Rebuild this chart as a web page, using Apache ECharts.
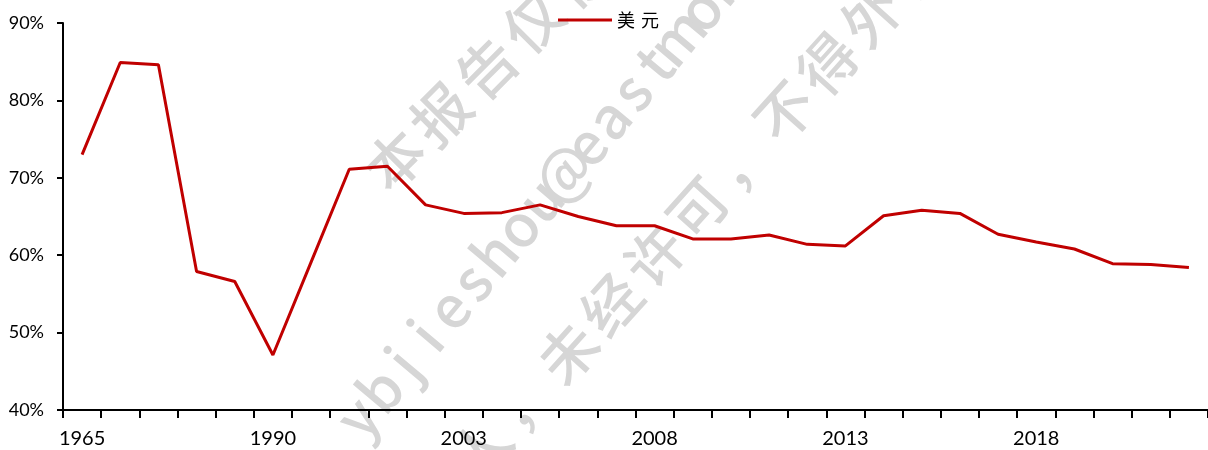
<!DOCTYPE html>
<html>
<head>
<meta charset="utf-8">
<title>美元</title>
<script src="https://cdn.jsdelivr.net/npm/echarts@6/dist/echarts.min.js"></script>
<style>
  html, body { margin: 0; padding: 0; background: #fff; overflow: hidden; }
  #chart { width: 1208px; height: 450px; }
</style>
</head>
<body>
<div id="chart"></div>
<script>
// Years on the category axis (five-year steps to 1995, then annual)
const years = ['1965', '1970', '1975', '1980', '1985', '1990', '1995', '2000', '2001', '2002',
               '2003', '2004', '2005', '2006', '2007', '2008', '2009', '2010', '2011', '2012',
               '2013', '2014', '2015', '2016', '2017', '2018', '2019', '2020', '2021', '2022'];

// Share of the US dollar, percent
const usdShare = [73.0, 84.9, 84.6, 57.9, 56.6, 47.1, 59.1, 71.1, 71.5, 66.5,
                  65.4, 65.5, 66.5, 65.0, 63.8, 63.8, 62.1, 62.1, 62.6, 61.4,
                  61.2, 65.1, 65.8, 65.4, 62.7, 61.7, 60.8, 58.9, 58.8, 58.4];

const seriesName = '美元';

// Y axis range and step (percent)
const yMin = 40, yMax = 90, yStep = 10;

// Watermark lines
const markLines = [
  '本报告仅供',
  'ybjieshou@eastmoney.com',
  '个人，未经许可，不得外传'
];

// Lay a string out one glyph at a time along a slanted baseline
function slantedText(text, cx, cy, angleDeg, advance, fontSize) {
  const a = angleDeg * Math.PI / 180;
  const dx = Math.cos(a) * advance, dy = -Math.sin(a) * advance;
  return Array.from(text).map((ch, i) => ({
    type: 'text',
    x: cx + dx * i,
    y: cy + dy * i,
    rotation: a,
    silent: true,
    z: 0,
    style: {
      text: ch,
      fill: '#d6d6d6',
      font: '500 ' + fontSize + 'px "Noto Sans CJK SC", "Noto Sans", sans-serif',
      textAlign: 'center',
      textVerticalAlign: 'middle',
      align: 'center',
      verticalAlign: 'middle'
    }
  }));
}

const watermark = [].concat(
  slantedText(markLines[0], 395, 160, 45, 65, 58),
  slantedText(markLines[1], 357, 417, 50, 35.5, 58),
  slantedText(markLines[2], 437.6, 497.1, 48, 64.8, 58)
);

// Legend label: each glyph as its own rich run so the two characters sit apart
function spacedLabel(name) {
  return Array.from(name).map((c, i) => '{' + (i === 0 ? 'g0' : 'g1') + '|' + c + '}').join('');
}

const legendGlyph = {
  fontFamily: '"Noto Sans CJK SC", sans-serif',
  fontSize: 18,
  color: '#000'
};

const chart = echarts.init(document.getElementById('chart'), null, { renderer: 'canvas' });

chart.setOption({
  animation: false,
  backgroundColor: '#ffffff',
  graphic: { elements: watermark },
  legend: {
    data: [seriesName],
    left: 558,
    top: 11,
    padding: 0,
    icon: 'rect',
    itemWidth: 54,
    itemHeight: 3,
    itemGap: 10,
    formatter: spacedLabel,
    textStyle: {
      fontFamily: '"Noto Sans CJK SC", sans-serif',
      fontSize: 18,
      color: '#000',
      rich: {
        g0: legendGlyph,
        g1: Object.assign({ padding: [0, 0, 0, 6] }, legendGlyph)
      }
    }
  },
  grid: {
    left: 63,
    right: -4,
    top: 23,
    bottom: 40,
    containLabel: false
  },
  xAxis: {
    type: 'category',
    data: years,
    boundaryGap: true,
    axisLine: { lineStyle: { color: '#000', width: 2 } },
    axisTick: { show: true, interval: 0, length: 8, lineStyle: { color: '#000', width: 2 } },
    axisLabel: {
      interval: 4,
      margin: 19,
      fontFamily: 'Lato, sans-serif',
      fontSize: 20,
      color: '#000'
    },
    splitLine: { show: false }
  },
  yAxis: {
    type: 'value',
    min: yMin,
    max: yMax,
    interval: yStep,
    axisLine: { show: true, lineStyle: { color: '#000', width: 2 } },
    axisTick: { show: true, length: 6, lineStyle: { color: '#000', width: 2 } },
    axisLabel: {
      formatter: '{value}%',
      margin: 19,
      fontFamily: 'Lato, sans-serif',
      fontSize: 18,
      color: '#000'
    },
    splitLine: { show: false }
  },
  series: [{
    name: seriesName,
    type: 'line',
    data: usdShare,
    showSymbol: false,
    symbol: 'none',
    z: 5,
    lineStyle: { color: '#C00000', width: 3 },
    itemStyle: { color: '#C00000' }
  }]
});
</script>
</body>
</html>
